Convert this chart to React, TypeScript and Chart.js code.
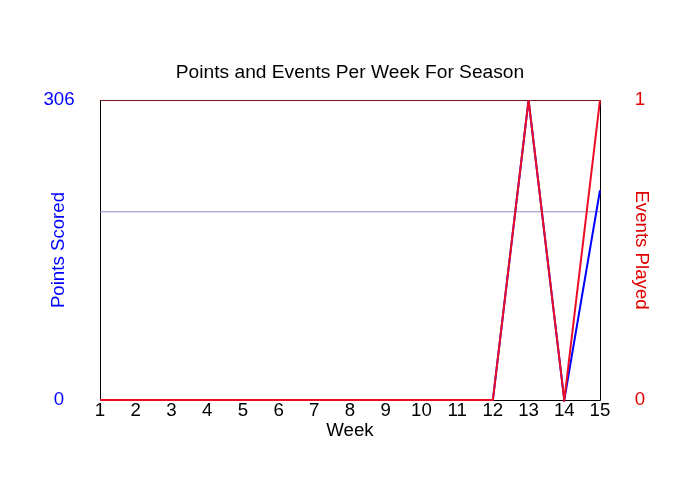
import React, { useEffect, useRef } from 'react';
import { Chart, registerables } from 'chart.js';

Chart.register(...registerables);

// Season data
const weeks = [1, 2, 3, 4, 5, 6, 7, 8, 9, 10, 11, 12, 13, 14, 15];
const pointsScored = [0, 0, 0, 0, 0, 0, 0, 0, 0, 0, 0, 0, 306, 0, 214];
const eventsPlayed = [0, 0, 0, 0, 0, 0, 0, 0, 0, 0, 0, 0, 1, 0, 1];
const guideLevel = [192, 192];
const guideWeeks = [1, 15];
const pointsTicks = [0, 306];
const eventsTicks = [0, 1];

const FONT = '"Liberation Sans", Arial, sans-serif';

// lines may spill past the bottom edge but not the top
const lineClip = { left: 2, right: 2, top: 0, bottom: 2 };

// draws the plot frame under the lines
const framePlugin = {
  id: 'frame',
  beforeDatasetsDraw(chart: Chart) {
    const { ctx, chartArea: a } = chart;
    ctx.save();
    ctx.lineWidth = 1;
    ctx.strokeStyle = '#000';
    ctx.beginPath();
    ctx.moveTo(a.left + 0.5, a.top);
    ctx.lineTo(a.left + 0.5, a.bottom + 0.5);
    ctx.lineTo(a.right + 0.5, a.bottom + 0.5);
    ctx.lineTo(a.right + 0.5, a.top);
    ctx.stroke();
    ctx.strokeStyle = '#701414';
    ctx.beginPath();
    ctx.moveTo(a.left, a.top + 0.5);
    ctx.lineTo(a.right + 1, a.top + 0.5);
    ctx.stroke();
    ctx.restore();
  },
};

const App: React.FC = () => {
  const chartRef = useRef<HTMLCanvasElement>(null);
  const chartInstance = useRef<Chart | null>(null);

  useEffect(() => {
    if (!chartRef.current) return;
    if (chartInstance.current) chartInstance.current.destroy();

    chartInstance.current = new Chart(chartRef.current, {
      type: 'line',
      data: {
        datasets: [
          {
            label: 'Events Played',
            data: weeks.map((w, i) => ({ x: w, y: eventsPlayed[i] })),
            yAxisID: 'y1',
            borderColor: '#ec0c24',
            borderWidth: 2,
            pointRadius: 0,
            clip: lineClip,
            order: 0,
          },
          {
            label: 'Points Scored',
            data: weeks.map((w, i) => ({ x: w, y: pointsScored[i] })),
            yAxisID: 'y',
            borderColor: '#0000ff',
            borderWidth: 2,
            pointRadius: 0,
            clip: lineClip,
            order: 1,
          },
          {
            label: 'Guide',
            data: guideWeeks.map((w, i) => ({ x: w, y: guideLevel[i] })),
            yAxisID: 'y',
            borderColor: '#8a8ac0',
            borderWidth: 1,
            pointRadius: 0,
            order: 2,
          },
        ],
      },
      options: {
        responsive: false,
        animation: false,
        layout: { padding: 0 },
        plugins: {
          legend: { display: false },
          tooltip: { enabled: false },
          title: {
            display: true,
            text: 'Points and Events Per Week For Season',
            color: '#000',
            font: { family: FONT, size: 19.2, weight: 'normal' },
            padding: { top: 61.5, bottom: 15.5 },
          },
        },
        scales: {
          x: {
            type: 'linear',
            min: 1,
            max: 15,
            grid: { display: false, drawTicks: false },
            border: { display: false },
            ticks: {
              stepSize: 1,
              padding: 0,
              color: '#000',
              font: { family: FONT, size: 18.67 },
            },
            title: {
              display: true,
              text: 'Week',
              color: '#000',
              font: { family: FONT, size: 18.67 },
              padding: { top: 0, bottom: 57.8 },
            },
            afterFit(scale: any) {
              scale.height = 100;
            },
          },
          y: {
            position: 'left',
            min: 0,
            max: 306,
            grid: { display: false, drawTicks: false },
            border: { display: false },
            afterBuildTicks(scale: any) {
              scale.ticks = pointsTicks.map((v) => ({ value: v }));
            },
            ticks: {
              crossAlign: 'center',
              padding: 25.4,
              color: '#0000ff',
              font: { family: FONT, size: 18.67 },
            },
            title: {
              display: true,
              text: 'Points Scored',
              color: '#0000ff',
              font: { family: FONT, size: 18.67 },
              padding: { top: 47.8, bottom: 0 },
            },
            afterFit(scale: any) {
              scale.width = 100;
            },
          },
          y1: {
            position: 'right',
            min: 0,
            max: 1,
            grid: { display: false, drawTicks: false },
            border: { display: false },
            afterBuildTicks(scale: any) {
              scale.ticks = eventsTicks.map((v) => ({ value: v }));
            },
            ticks: {
              crossAlign: 'center',
              padding: 34.8,
              color: '#e00000',
              font: { family: FONT, size: 18.67 },
            },
            title: {
              display: true,
              text: 'Events Played',
              color: '#e00000',
              font: { family: FONT, size: 18.67 },
              padding: { top: 47.8, bottom: 0 },
            },
            afterFit(scale: any) {
              scale.width = 100;
            },
          },
        },
      },
      plugins: [framePlugin],
    });

    return () => {
      if (chartInstance.current) {
        chartInstance.current.destroy();
        chartInstance.current = null;
      }
    };
  }, []);

  return (
    <div style={{ position: 'fixed', left: 0, top: 0, width: 700, height: 500, background: '#fff' }}>
      <canvas ref={chartRef} width={700} height={500} />
    </div>
  );
};

export default App;
